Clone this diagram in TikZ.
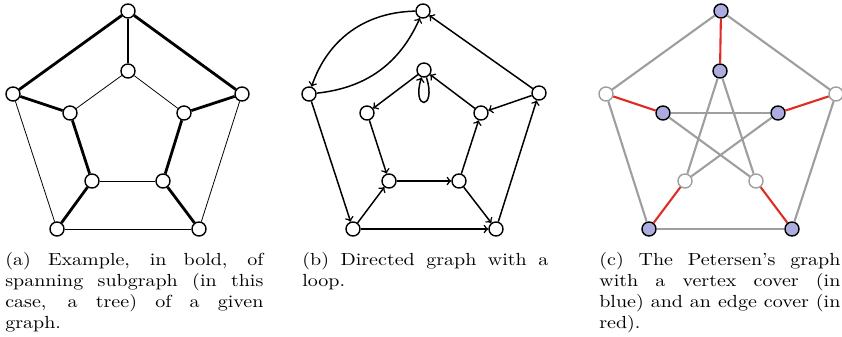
\documentclass[tikz,border=0pt]{standalone}
\definecolor{coverblue}{RGB}{172,172,224}
\definecolor{coverred}{RGB}{222,45,35}
\definecolor{edgegray}{RGB}{158,158,158}
\newcommand{\subcap}[2]{\scalebox{1.143}[1]{\parbox[t]{#1}{\fontsize{10}{12}\selectfont #2}}}
\tikzset{
  vtx/.style={circle,draw,fill=white,line width=0.8pt,minimum size=8pt,inner sep=0pt},
  bvtx/.style={vtx,fill=coverblue},
  wvtx/.style={vtx,draw=edgegray},
  thinedge/.style={line width=0.45pt},
  boldedge/.style={line width=1.6pt},
  arc/.style={->,line width=0.85pt},
  grayedge/.style={draw=edgegray,line width=1.2pt},
  rededge/.style={draw=coverred,line width=1.2pt},
  caption/.style={anchor=north west,inner sep=0pt}
}
\begin{document}
\begin{tikzpicture}[x=0.5714pt,y=0.5714pt]
\useasboundingbox (0,0) rectangle (842,-337);

% (a) spanning tree
\node[vtx] (a1) at (128,-11) {};
\node[vtx] (a2) at (242,-94) {};
\node[vtx] (a3) at (199,-229) {};
\node[vtx] (a4) at (57,-229) {};
\node[vtx] (a5) at (13,-94) {};
\node[vtx] (ai1) at (128,-71) {};
\node[vtx] (ai2) at (184,-113) {};
\node[vtx] (ai3) at (163,-181) {};
\node[vtx] (ai4) at (92,-181) {};
\node[vtx] (ai5) at (70,-113) {};
\foreach \u/\v in {a5/a4,a2/a3,a4/a3,ai1/ai5,ai1/ai2,ai4/ai3}
  \draw[thinedge] (\u) -- (\v);
\foreach \u/\v in {a1/a5,a1/a2,a1/ai1,a5/ai5,a2/ai2,a4/ai4,a3/ai3,ai5/ai4,ai2/ai3}
  \draw[boldedge] (\u) -- (\v);
\node[caption] (capa) at (5,-252)
  {\subcap{129pt}{(a) Example, in bold, of\linebreak spanning subgraph (in this\linebreak case, a tree) of a given\linebreak graph.}};

% (b) directed graph
\node[vtx] (b1) at (423,-11) {};
\node[vtx] (b2) at (539,-93) {};
\node[vtx] (b3) at (496,-229) {};
\node[vtx] (b4) at (353,-229) {};
\node[vtx] (b5) at (309,-94) {};
\node[vtx] (bi1) at (424,-70) {};
\node[vtx] (bi2) at (481,-113) {};
\node[vtx] (bi3) at (459,-181) {};
\node[vtx] (bi4) at (389,-181) {};
\node[vtx] (bi5) at (367,-113) {};
\draw[arc] (b1) to[bend right=35] (b5);
\draw[arc] (b5) to[bend right=30] (b1);
\foreach \u/\v in {b2/b1,b5/b4,b4/b3,b3/b2,b2/bi2,bi2/bi1,bi1/bi5,bi5/bi4,bi4/bi3,bi3/bi2,bi3/b3,b4/bi4}
  \draw[arc] (\u) -- (\v);
\draw[arc] (bi1) to[out=-72,in=-108,min distance=20pt,looseness=12] (bi1);
\node[caption] (capb) at (302,-252)
  {\subcap{123pt}{(b) Directed graph with a\linebreak loop.}};

% (c) Petersen graph
\node[bvtx] (c1) at (721,-11) {};
\node[wvtx] (c2) at (836,-94) {};
\node[bvtx] (c3) at (792,-229) {};
\node[bvtx] (c4) at (649,-229) {};
\node[wvtx] (c5) at (606,-94) {};
\node[bvtx] (ci1) at (720,-71) {};
\node[bvtx] (ci2) at (778,-113) {};
\node[wvtx] (ci3) at (756,-181) {};
\node[wvtx] (ci4) at (685,-181) {};
\node[bvtx] (ci5) at (663,-113) {};
\foreach \u/\v in {c1/c5,c1/c2,c5/c4,c2/c3,c4/c3,ci1/ci4,ci1/ci3,ci5/ci2,ci5/ci3,ci2/ci4}
  \draw[grayedge] (\u) -- (\v);
\foreach \u/\v in {c1/ci1,c5/ci5,c2/ci2,c4/ci4,c3/ci3}
  \draw[rededge] (\u) -- (\v);
\node[caption] (capc) at (599,-252)
  {\subcap{120.5pt}{(c) The Petersen's graph\linebreak with a vertex cover (in\linebreak blue) and an edge cover (in\linebreak red).}};
\end{tikzpicture}
\end{document}
